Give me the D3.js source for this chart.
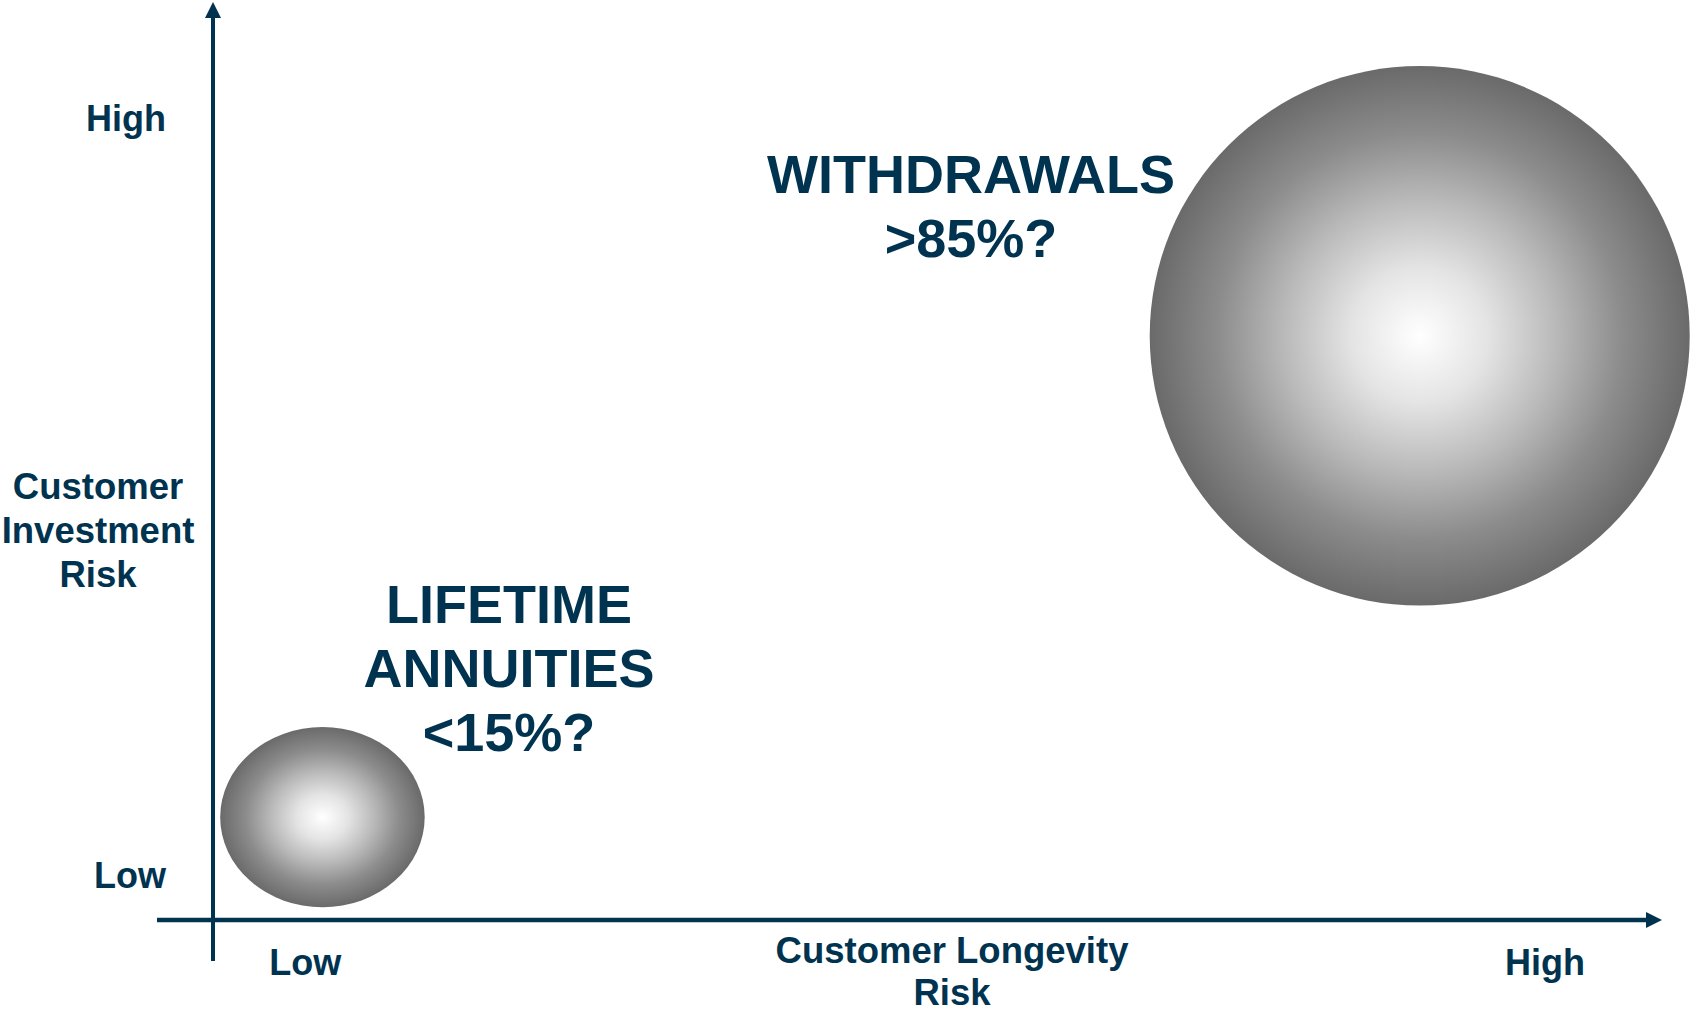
<!DOCTYPE html>
<html>
<head>
<meta charset="utf-8">
<script src="https://cdn.jsdelivr.net/npm/d3@7"></script>
<style>
  html, body { margin: 0; padding: 0; background: #fff; }
  svg { display: block; }
  text { font-family: "Liberation Sans", Arial, sans-serif; font-weight: bold; fill: #00334f; }
</style>
</head>
<body>
<div id="chart"></div>
<script>
'use strict';

// bubble data (axis units 0..10)
let products = ["LIFETIME ANNUITIES", "WITHDRAWALS"];
let shares = ["<15%?", ">85%?"];
let longevity_risk = [0.76, 8.38];
let investment_risk = [1.13, 6.42];
let bubble_w = [1.42, 3.75];
let bubble_h = [1.98, 5.93];

let tick_labels = ["Low", "High"];
let x_ticks = [0.64, 9.25];
let y_ticks = [0.5, 8.81];
let x_title = ["Customer Longevity", "Risk"];
let y_title = ["Customer", "Investment", "Risk"];

let width = 1692, height = 1012;
let navy = "#00334f";

let svg = d3.select("#chart").append("svg")
    .attr("width", width)
    .attr("height", height);

let x = d3.scaleLinear().domain([0, 10]).range([213, 1653]);
let y = d3.scaleLinear().domain([0, 10]).range([920, 10]);

// radial shading for the spheres
let grad = svg.append("defs").append("radialGradient")
    .attr("id", "ball");
grad.append("stop").attr("offset", "0%").attr("stop-color", "#ffffff");
grad.append("stop").attr("offset", "25%").attr("stop-color", "#e4e4e4");
grad.append("stop").attr("offset", "50%").attr("stop-color", "#bababa");
grad.append("stop").attr("offset", "75%").attr("stop-color", "#8c8c8c");
grad.append("stop").attr("offset", "100%").attr("stop-color", "#6a6a6a");

let bubbles = products.map(function(p, i) {
    return {name: p, share: shares[i], x: longevity_risk[i], y: investment_risk[i], w: bubble_w[i], h: bubble_h[i]};
});

svg.append("g").selectAll("ellipse")
    .data(bubbles)
    .enter().append("ellipse")
    .attr("cx", function(d) { return x(d.x); })
    .attr("cy", function(d) { return y(d.y); })
    .attr("rx", function(d) { return (x(d.w) - x(0)) / 2; })
    .attr("ry", function(d) { return (y(0) - y(d.h)) / 2; })
    .attr("fill", "url(#ball)");

// axes with arrow heads
let ax = svg.append("g");
ax.append("line")
    .attr("x1", x(0)).attr("x2", x(0))
    .attr("y1", 961).attr("y2", 15)
    .attr("stroke", navy).attr("stroke-width", 4);
ax.append("path")
    .attr("d", "M" + x(0) + ",2 L" + (x(0) - 8) + ",18 L" + (x(0) + 8) + ",18 Z")
    .attr("fill", navy);
ax.append("line")
    .attr("x1", 157).attr("x2", 1648)
    .attr("y1", y(0)).attr("y2", y(0))
    .attr("stroke", navy).attr("stroke-width", 4.5);
ax.append("path")
    .attr("d", "M1662," + y(0) + " L1646," + (y(0) - 8) + " L1646," + (y(0) + 8) + " Z")
    .attr("fill", navy);

// tick labels
svg.append("g").selectAll("text")
    .data(x_ticks)
    .enter().append("text")
    .attr("x", function(d) { return x(d); })
    .attr("y", 975)
    .attr("text-anchor", "middle")
    .attr("font-size", 36)
    .text(function(d, i) { return tick_labels[i]; });

svg.append("g").selectAll("text")
    .data(y_ticks)
    .enter().append("text")
    .attr("x", 166)
    .attr("y", function(d) { return y(d) + 13; })
    .attr("text-anchor", "end")
    .attr("font-size", 36)
    .text(function(d, i) { return tick_labels[i]; });

// axis titles
svg.append("g").selectAll("text")
    .data(x_title)
    .enter().append("text")
    .attr("x", 952)
    .attr("y", function(d, i) { return 963 + i * 42; })
    .attr("text-anchor", "middle")
    .attr("font-size", 36.5)
    .text(function(d) { return d; });

svg.append("g").selectAll("text")
    .data(y_title)
    .enter().append("text")
    .attr("x", 98)
    .attr("y", function(d, i) { return 499 + i * 44; })
    .attr("text-anchor", "middle")
    .attr("font-size", 36.5)
    .text(function(d) { return d; });

// bubble annotations
let label_pos = [{x: 509, y: 623}, {x: 971, y: 193}];
bubbles.forEach(function(b, i) {
    let lines = b.name.split(" ").concat([b.share]);
    if (i == 1) lines = [b.name, b.share];
    svg.append("g").selectAll("text")
        .data(lines)
        .enter().append("text")
        .attr("x", label_pos[i].x)
        .attr("y", function(d, j) { return label_pos[i].y + j * 64; })
        .attr("text-anchor", "middle")
        .attr("font-size", 54)
        .text(function(d) { return d; });
});
</script>
</body>
</html>
